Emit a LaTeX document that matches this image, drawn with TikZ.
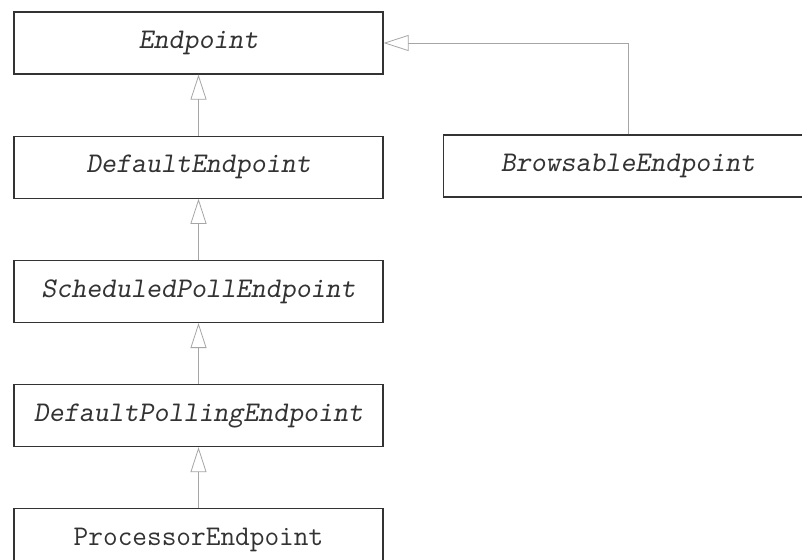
\documentclass[tikz,border=0pt]{standalone}
\usetikzlibrary{arrows.meta,positioning}

\begin{document}
\begin{tikzpicture}[x=1pt,y=1pt,node distance=61pt,
    cls/.style={draw=black!80,line width=1.2pt,text=black!80,minimum width=369pt,
        minimum height=62pt,inner sep=0pt,font=\fontsize{28.5}{32}\selectfont\ttfamily},
    abs/.style={cls,font=\fontsize{28.5}{32}\selectfont\ttfamily\slshape},
    inherit/.style={draw=black!35,line width=0.8pt,-{Triangle[open,length=25pt,width=16pt]}}]
    \fill[white] (0,0) rectangle (802,-559);
    \useasboundingbox (0,0) rectangle (802,-559);
    \node[abs] (endpoint) at (198.5,-43) {Endpoint};
    \node[abs,below=of endpoint] (default) {DefaultEndpoint};
    \node[abs,below=of default] (scheduled) {ScheduledPollEndpoint};
    \node[abs,below=of scheduled] (polling) {DefaultPollingEndpoint};
    \node[cls,below=of polling] (processor) {ProcessorEndpoint};
    \node[abs] (browsable) at (628,-166) {BrowsableEndpoint};
    \draw[inherit] (default) -- (endpoint);
    \draw[inherit] (scheduled) -- (default);
    \draw[inherit] (polling) -- (scheduled);
    \draw[inherit] (processor) -- (polling);
    \draw[inherit] (browsable.north) |- (endpoint.east);
\end{tikzpicture}
\end{document}
